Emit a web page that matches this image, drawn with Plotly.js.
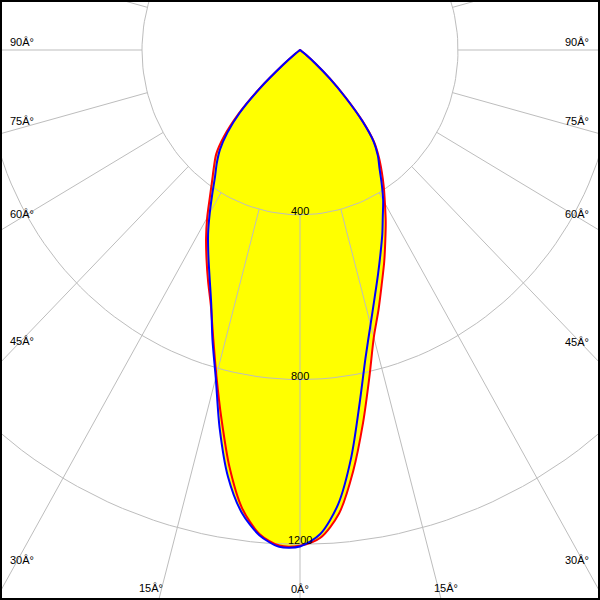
<!DOCTYPE html>
<html>
<head>
<meta charset="utf-8">
<script src="https://cdn.plot.ly/plotly-3.0.1.min.js"></script>
<style>html,body{margin:0;padding:0;background:#fff;}#chart{width:600px;height:600px;}</style>
</head>
<body>
<div id="chart"></div>
<script>
// gamma angles (deg, 0 = straight down, negative = left half)
const gamma = [-90,-85,-80,-75,-70,-65,-60,
  -57.5,-55,-52.5,-50,-47.5,-45,-42.5,-40,-37.5,-35,
  -32.5,-30,-27.5,-25,-22.5,-20,-17.5,-15,-12.5,-10,
  -7.5,-5,-2.5,0,2.5,5,7.5,10,12.5,15,
  17.5,20,22.5,25,27.5,30,32.5,35,37.5,40,
  42.5,45,47.5,50,52.5,55,57.5,
  60,65,70,75,80,85,90];

// intensity, red curve (cd)
const redValues = [0,0,0,0,0,0,0,
  0,3,15,55,140,222,285,330,358,388,
  425,470,515,560,608,660,731,818,918,1028,
  1122,1179,1204,1203,1185,1130,1031,919,812,722,
  661,605,557,511,470,430,395,361,328,292,
  235,165,103,50,20,5,0,
  0,0,0,0,0,0,0];

// intensity, blue curve (cd)
const blueValues = [0,0,0,0,0,0,0,
  0,3,15,55,138,217,272,315,346,375,
  413,457,504,549,598,657,737,824,940,1051,
  1132,1182,1207,1205,1176,1107,996,870,766,690,
  629,578,533,493,454,421,385,351,324,290,
  233,163,102,50,20,5,0,
  0,0,0,0,0,0,0];

const ringValues = [400, 800, 1200];
const spokeAngles = [0,15,30,45,60,75,90,105,120,135,150,165,180,195,210,225,240,255,270,285,300,315,330,345];

const angleLabels = ['90\u00C2\u00B0','75\u00C2\u00B0','60\u00C2\u00B0','45\u00C2\u00B0','30\u00C2\u00B0','15\u00C2\u00B0','0\u00C2\u00B0','15\u00C2\u00B0','30\u00C2\u00B0','45\u00C2\u00B0','60\u00C2\u00B0','75\u00C2\u00B0','90\u00C2\u00B0'];
// label positions in pixels (layout only)
const labelPos = [
  {x:9, y:42, a:'left'}, {x:9, y:121, a:'left'}, {x:9, y:214, a:'left'}, {x:9, y:341, a:'left'}, {x:9, y:560, a:'left'},
  {x:151, y:588, a:'center'}, {x:300, y:589, a:'center'}, {x:446, y:588, a:'center'},
  {x:590, y:560, a:'right'}, {x:590, y:342, a:'right'}, {x:590, y:214, a:'right'}, {x:590, y:121, a:'right'}, {x:590, y:42, a:'right'}
];

// scale (px per cd) and pole position in pixels
const kx = 0.395, ky = 0.412, cxp = 300, cyp = 50, W = 600, H = 600;

function toXY(angles, values) {
  const xs = [], ys = [];
  for (let i = 0; i < angles.length; i++) {
    const t = angles[i] * Math.PI / 180;
    const x = values[i] * Math.sin(t), y = -values[i] * Math.cos(t);
    const n = xs.length;
    if (n && Math.abs(xs[n - 1] - x) < 1e-9 && Math.abs(ys[n - 1] - y) < 1e-9) continue; // skip repeated pole points
    xs.push(x); ys.push(y);
  }
  return {x: xs, y: ys};
}

const gridColor = '#bdbdbd';
const traces = [];

const red = toXY(gamma, redValues);
const blue = toXY(gamma, blueValues);
const lineShape = {shape: 'spline', smoothing: 0.8};

// yellow fills
[red, blue].forEach(c => traces.push({
  type: 'scatter', mode: 'lines', x: c.x, y: c.y, fill: 'toself',
  fillcolor: '#ffff00', line: Object.assign({width: 0, color: 'rgba(0,0,0,0)'}, lineShape), hoverinfo: 'skip', showlegend: false
}));

// rings
const gx = [], gy = [];
ringValues.forEach(r => {
  for (let a = 0; a <= 360; a += 2) {
    const t = a * Math.PI / 180;
    gx.push(r * Math.sin(t)); gy.push(-r * Math.cos(t));
  }
  gx.push(null); gy.push(null);
});
// spokes
spokeAngles.forEach(a => {
  const t = a * Math.PI / 180;
  gx.push(ringValues[0] * Math.sin(t), 3000 * Math.sin(t), null);
  gy.push(-ringValues[0] * Math.cos(t), -3000 * Math.cos(t), null);
});
traces.push({type: 'scatter', mode: 'lines', x: gx, y: gy, line: {color: gridColor, width: 1}, hoverinfo: 'skip', showlegend: false});

traces.push({type: 'scatter', mode: 'lines', x: red.x, y: red.y, line: Object.assign({color: '#ff0000', width: 2}, lineShape), showlegend: false});
traces.push({type: 'scatter', mode: 'lines', x: blue.x, y: blue.y, line: Object.assign({color: '#0000ff', width: 2}, lineShape), showlegend: false});

const font = {family: 'Liberation Sans, Arial, sans-serif', size: 11, color: '#000'};
const annotations = [];
ringValues.forEach(r => annotations.push({
  x: 0, y: -r, xref: 'x', yref: 'y', text: String(r), showarrow: false,
  xanchor: 'center', yanchor: 'bottom', yshift: -4, font: font
}));
angleLabels.forEach((t, i) => annotations.push({
  x: labelPos[i].x / W, y: 1 - labelPos[i].y / H, xref: 'paper', yref: 'paper', text: t, showarrow: false,
  xanchor: labelPos[i].a, yanchor: 'middle', font: font, borderpad: 0
}));

const layout = {
  width: W, height: H, margin: {l: 0, r: 0, t: 0, b: 0},
  paper_bgcolor: '#ffffff', plot_bgcolor: '#ffffff',
  xaxis: {range: [-cxp / kx, (W - cxp) / kx], visible: false, fixedrange: true},
  yaxis: {range: [-(H - cyp) / ky, cyp / ky], visible: false, fixedrange: true},
  showlegend: false,
  annotations: annotations,
  shapes: [{type: 'rect', xref: 'paper', yref: 'paper', x0: 0, x1: 1, y0: 0, y1: 1, line: {color: '#000', width: 4}}]
};

Plotly.newPlot('chart', traces, layout, {staticPlot: true, displayModeBar: false});
</script>
</body>
</html>
